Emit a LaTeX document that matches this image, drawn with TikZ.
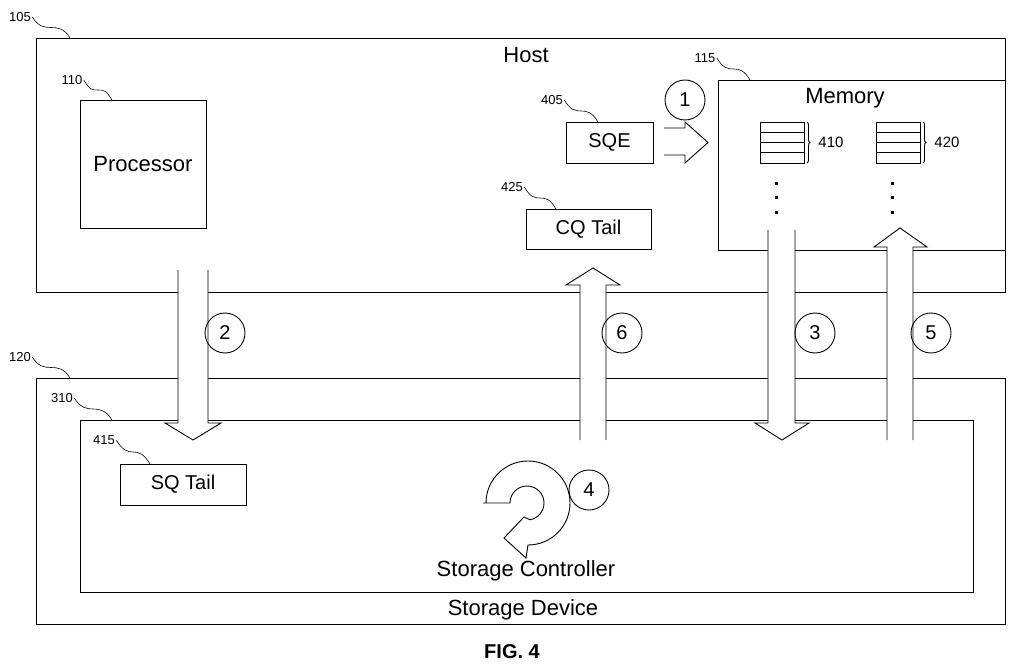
\documentclass[tikz,border=0pt]{standalone}
\usepackage{fontspec}
\setmainfont{Liberation Sans}
\usetikzlibrary{decorations.pathreplacing,calc}
\begin{document}
\begin{tikzpicture}[x=1pt,y=-1pt,line width=0.9pt,
  box/.style={draw,inner sep=0},
  big/.style={font=\fontsize{22}{24}\selectfont},
  mid/.style={font=\fontsize{20}{22}\selectfont},
  ref/.style={font=\fontsize{13}{14}\selectfont,inner sep=1pt},
  num/.style={draw,circle,minimum size=40pt,inner sep=0,font=\fontsize{20}{22}\selectfont},
  hollow/.style={draw,fill=white,line join=miter}]
\useasboundingbox (0,0) rectangle (1024,671);
% boxes
\draw (36,38) rectangle (1005,292);
\node[big] (host) at (526,55) {Host};
\draw (80,100) rectangle (206,228);
\node[big] (proc) at (143,164) {Processor};
\draw (718,80) rectangle (1005,250);
\node[big] (mem) at (845,98) {Memory};
\node[box,minimum width=87pt,minimum height=41pt,mid] (sqe) at (609.5,142.5) {SQE};
\node[box,minimum width=125pt,minimum height=40pt,mid] (cqt) at (588.5,229) {CQ Tail};
\draw (36,378) rectangle (1005,624);
\node[big] (sd) at (523,610) {Storage Device};
\draw (80,420) rectangle (973,592);
\node[big] (sc) at (526,571) {Storage Controller};
\node[box,minimum width=126pt,minimum height=41pt,mid] (sqt) at (183,484.5) {SQ Tail};
% stacks
\foreach \x/\t in {760/410,876/420}{
  \draw (\x,122) rectangle (\x+44,163);
  \foreach \yy in {132,142,152} \draw (\x,\yy) -- (\x+44,\yy);
  \draw[decorate,decoration={brace,amplitude=3pt}] (\x+47,122) -- (\x+47,163);
  \node[ref,font=\fontsize{15}{16}\selectfont,anchor=west] at (\x+57,142) {\t};
  \foreach \yy in {182,196,211} \fill (\x+15,\yy) rectangle (\x+18,\yy+3);
}
% ref labels with squiggles
\foreach \lx/\ly/\t/\ex/\ey in {20/17/105/70/38, 72/80/110/112/100, 705/58/115/750/80,
   552/100/405/598/122, 512/187/425/556/209, 20/357/120/70/378, 62/398/310/112/420, 104/440/415/150/464}{
  \node[ref] (l\t) at (\lx,\ly) {\t};
  \coordinate (e\t) at (\ex,\ey);
  \draw[line width=0.6pt] (l\t.east) .. controls +(6,10) and +(-6,0) .. ($(l\t.east)!0.5!(e\t)$) .. controls +(6,0) and +(-6,-10) .. (e\t);
}
% arrow 1
\draw[hollow] (664,128) -- (685,128) -- (685,122) -- (708,142.5) -- (685,163) -- (685,155) -- (664,155);
\node[num] (c1) at (685,100) {1};
% arrow 2 down
\draw[hollow] (178,270) -- (178,423) -- (165,423) -- (193,440) -- (221,423) -- (208,423) -- (208,270);
\node[num] (c2) at (225,333) {2};
% arrow 6 up
\draw[hollow] (580,440) -- (580,285) -- (566,285) -- (593,268) -- (620,285) -- (606,285) -- (606,440);
\node[num] (c6) at (622,333) {6};
% arrow 3 down
\draw[hollow] (768,230) -- (768,423) -- (755,423) -- (782,440) -- (809,423) -- (795,423) -- (795,230);
\node[num] (c3) at (815,333) {3};
% arrow 5 up
\draw[hollow] (887,440) -- (887,247) -- (874,247) -- (900,228) -- (927,247) -- (913,247) -- (913,440);
\node[num] (c5) at (931,333) {5};
% circular arrow 4
\draw[fill=white] (483,503) -- (510,503) arc[start angle=180,end angle=440,radius=17]
  -- (524,517) -- (504,538) -- (526,558) -- (528,545)
  arc[start angle=90,end angle=-180,radius=42] -- cycle;
\node[num] (c4) at (589,490) {4};
\node[font=\bfseries\fontsize{20}{22}\selectfont] (fig) at (512,652) {FIG. 4};
\end{tikzpicture}
\end{document}
